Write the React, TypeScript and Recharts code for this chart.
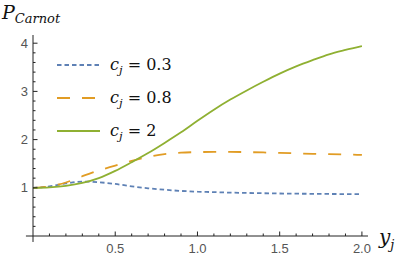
import { LineChart, Line, XAxis, YAxis, ReferenceLine, Legend } from "recharts";

// y_j samples and P_Carnot for each c_j
const yj = [0, 0.1, 0.2, 0.3, 0.4, 0.5, 0.6, 0.7, 0.8, 0.9, 1.0, 1.1, 1.2, 1.3, 1.4, 1.5, 1.6, 1.7, 1.8, 1.9, 2.0];
const pC03 = [1.0, 1.03, 1.09, 1.13, 1.115, 1.08, 1.03, 0.99, 0.96, 0.935, 0.92, 0.91, 0.9, 0.893, 0.887, 0.882, 0.878, 0.875, 0.872, 0.87, 0.868];
const pC08 = [1.0, 1.03, 1.11, 1.24, 1.36, 1.46, 1.56, 1.64, 1.7, 1.73, 1.74, 1.745, 1.745, 1.74, 1.733, 1.725, 1.715, 1.705, 1.698, 1.69, 1.682];
const pC2 = [1.0, 1.01, 1.04, 1.1, 1.2, 1.35, 1.53, 1.72, 1.93, 2.15, 2.39, 2.62, 2.83, 3.02, 3.2, 3.37, 3.52, 3.65, 3.77, 3.86, 3.94];

const cjValues = ["0.3", "0.8", "2"];
const seriesKeys = ["c03", "c08", "c2"];
const colors = ["#5E81B5", "#E19C24", "#8FB032"];
const dashes = ["4.5 3", "13 12", undefined];

const xTicks = [0.1, 0.2, 0.3, 0.4, 0.5, 0.6, 0.7, 0.8, 0.9, 1.0, 1.1, 1.2, 1.3, 1.4, 1.5, 1.6, 1.7, 1.8, 1.9, 2.0];
const xLabels = [0.5, 1.0, 1.5, 2.0];
const yTicks = [0.2, 0.4, 0.6, 0.8, 1, 1.2, 1.4, 1.6, 1.8, 2, 2.2, 2.4, 2.6, 2.8, 3, 3.2, 3.4, 3.6, 3.8, 4];
const yLabels = [1, 2, 3, 4];

const data = yj.map((x, i) => ({ x, c03: pC03[i], c08: pC08[i], c2: pC2[i] }));

const AXIS = "#222";
const TICK_FONT = "Liberation Sans, Arial, sans-serif";
const MATH_FONT = "DejaVu Serif, serif";

const isIn = (list: number[], v: number) => list.some((l) => Math.abs(l - v) < 1e-6);

function XTick({ x, y, payload }: any) {
  const v = payload.value;
  const major = isIn(xLabels, v);
  return (
    <g>
      <line x1={x} x2={x} y1={y} y2={y - (major ? 4.5 : 2.5)} stroke={AXIS} strokeWidth={1} />
      {major && (
        <text x={x} y={y + 17} textAnchor="middle" fill="#555" fontSize={13} fontFamily={TICK_FONT}>
          {v.toFixed(1)}
        </text>
      )}
    </g>
  );
}

function YTick({ x, y, payload }: any) {
  const v = payload.value;
  const major = isIn(yLabels, v);
  return (
    <g>
      <line x1={x} x2={x + (major ? 4.5 : 2.5)} y1={y} y2={y} stroke={AXIS} strokeWidth={1} />
      {major && (
        <text x={x - 5} y={y + 4.5} textAnchor="end" fill="#555" fontSize={13} fontFamily={TICK_FONT}>
          {v}
        </text>
      )}
    </g>
  );
}

function LegendBox() {
  return (
    <div style={{ display: "flex", flexDirection: "column" }}>
      {cjValues.map((c, i) => (
        <div key={c} style={{ height: 33, display: "flex", alignItems: "center" }}>
          <svg width={43} height={4} style={{ display: "block" }}>
            <line x1={0} x2={43} y1={2} y2={2} stroke={colors[i]} strokeWidth={1.8} strokeDasharray={dashes[i]} />
          </svg>
          <span style={{ marginLeft: 10, fontFamily: MATH_FONT, fontSize: 16, color: "#111", whiteSpace: "nowrap", lineHeight: 1 }}>
            <i>c</i>
            <i style={{ fontSize: 11.5, position: "relative", top: 4 }}>j</i>
            {" = " + c}
          </span>
        </div>
      ))}
    </div>
  );
}

export default function App() {
  return (
    <div style={{ position: "absolute", left: 0, top: 0, width: 399, height: 259, background: "#fff" }}>
      <LineChart width={399} height={259} data={data} margin={{ top: 35, right: 31, bottom: 0, left: 0 }}>
        <XAxis
          type="number"
          dataKey="x"
          domain={[0, 2.037]}
          allowDataOverflow
          ticks={xTicks}
          tick={<XTick />}
          tickSize={0}
          tickMargin={0}
          tickLine={false}
          height={23}
          axisLine={{ stroke: AXIS, strokeWidth: 1 }}
          interval={0}
        />
        <YAxis
          type="number"
          domain={[0, 4.17]}
          allowDataOverflow
          ticks={yTicks}
          tick={<YTick />}
          tickSize={0}
          tickMargin={0}
          tickLine={false}
          width={33}
          axisLine={{ stroke: AXIS, strokeWidth: 1 }}
          interval={0}
        />
        <ReferenceLine segment={[{ x: -0.043, y: 0 }, { x: 0, y: 0 }]} stroke={AXIS} strokeWidth={1} ifOverflow="visible" />
        <ReferenceLine segment={[{ x: 0, y: 0 }, { x: 0, y: -0.124 }]} stroke={AXIS} strokeWidth={1} ifOverflow="visible" />
        {seriesKeys.map((k, i) => (
          <Line
            key={k}
            type="monotone"
            dataKey={k}
            stroke={colors[i]}
            strokeWidth={1.8}
            strokeDasharray={dashes[i]}
            dot={false}
            activeDot={false}
            isAnimationActive={false}
          />
        ))}
        <Legend
          layout="vertical"
          align="center"
          verticalAlign="middle"
          content={<LegendBox />}
          wrapperStyle={{ left: 57, top: 48, width: "auto", height: "auto" }}
        />
      </LineChart>
      <div style={{ position: "absolute", left: 2, top: 3, fontFamily: MATH_FONT, fontSize: 19, fontStyle: "italic", color: "#111", lineHeight: 1, whiteSpace: "nowrap" }}>
        P<span style={{ fontSize: 13, position: "relative", top: 4 }}>Carnot</span>
      </div>
      <div style={{ position: "absolute", left: 379, top: 227, fontFamily: MATH_FONT, fontSize: 20, fontStyle: "italic", color: "#111", lineHeight: 1, whiteSpace: "nowrap" }}>
        y<span style={{ fontSize: 13, position: "relative", top: 5 }}>j</span>
      </div>
    </div>
  );
}
